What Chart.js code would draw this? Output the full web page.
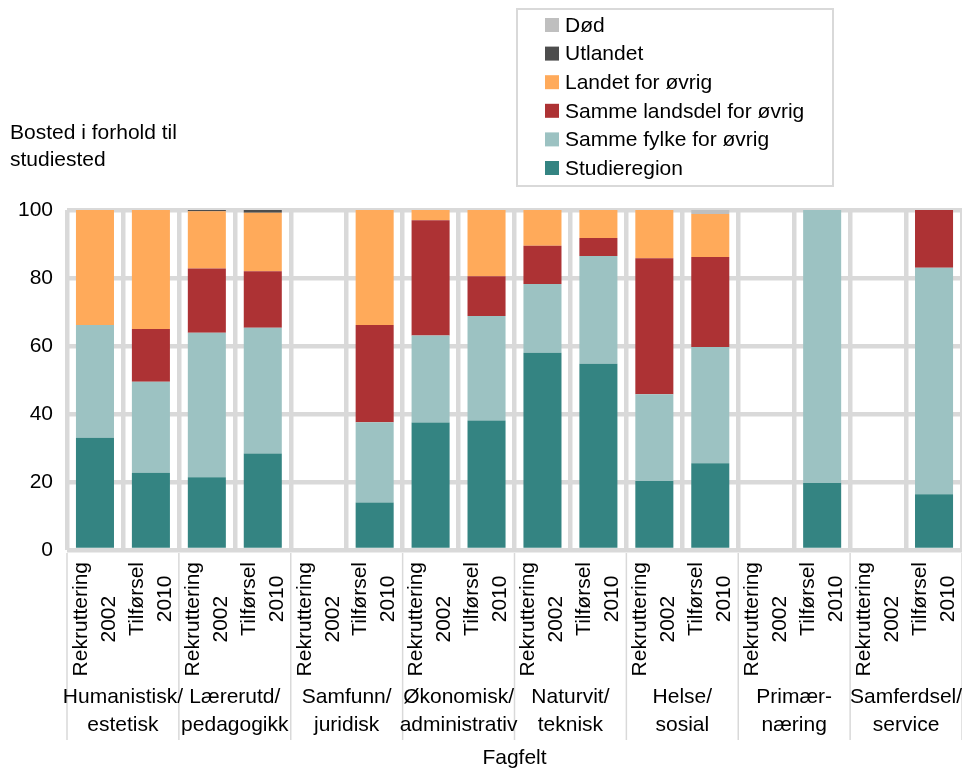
<!DOCTYPE html>
<html>
<head>
<meta charset="utf-8">
<script src="https://cdn.jsdelivr.net/npm/chart.js@4.4.0/dist/chart.umd.min.js"></script>
<style>
html, body { margin: 0; padding: 0; background: #fff; }
#wrap { width: 962px; height: 769px; }
</style>
</head>
<body>
<div id="wrap"><canvas id="bosted_chart" width="962" height="769"></canvas></div>
<script>
// Two bars per subject field: recruitment 2002 and supply 2010
const categories = [
    ["Rekruttering", "2002"], ["Tilførsel", "2010"],
    ["Rekruttering", "2002"], ["Tilførsel", "2010"],
    ["Rekruttering", "2002"], ["Tilførsel", "2010"],
    ["Rekruttering", "2002"], ["Tilførsel", "2010"],
    ["Rekruttering", "2002"], ["Tilførsel", "2010"],
    ["Rekruttering", "2002"], ["Tilførsel", "2010"],
    ["Rekruttering", "2002"], ["Tilførsel", "2010"],
    ["Rekruttering", "2002"], ["Tilførsel", "2010"]
];
const groups = [
    ["Humanistisk/", "estetisk"],
    ["Lærerutd/", "pedagogikk"],
    ["Samfunn/", "juridisk"],
    ["Økonomisk/", "administrativ"],
    ["Naturvit/", "teknisk"],
    ["Helse/", "sosial"],
    ["Primær-", "næring"],
    ["Samferdsel/", "service"]
];
const yTicks = [0, 20, 40, 60, 80, 100];

// Share (%) by place of residence
const studieregion  = [33.0, 22.7, 21.4, 28.4, 0, 14.0, 37.5, 38.1, 58.0, 54.8, 20.3, 25.5, 0, 19.7, 0, 16.4];
const sammeFylke    = [33.2, 26.8, 42.5, 37.0, 0, 23.6, 25.6, 30.7, 20.2, 31.7, 25.5, 34.2, 0, 80.3, 0, 66.6];
const sammeLandsdel = [0, 15.5, 18.9, 16.6, 0, 28.6, 33.9, 11.7, 11.3, 5.3, 40.0, 26.5, 0, 0, 0, 17.0];
const landetOvrig   = [33.8, 35.0, 16.8, 17.2, 0, 33.8, 3.0, 19.5, 10.5, 8.2, 14.2, 12.6, 0, 0, 0, 0];
const utlandet      = [0, 0, 0.4, 0.8, 0, 0, 0, 0, 0, 0, 0, 0, 0, 0, 0, 0];
const dod           = [0, 0, 0, 0, 0, 0, 0, 0, 0, 0, 0, 1.2, 0, 0, 0, 0];

const FAMILY = '"Liberation Sans", Arial, sans-serif';
const FONT = "21px " + FAMILY;
const TEXT = "#000";
const GRID = "#d9d9d9";

// Draws the rotated bar labels, field labels, legend box and titles
const extraDrawing = {
    id: "extraDrawing",
    afterDraw(chart) {
        let ctx = chart.ctx;
        let xs = chart.scales.x;
        let area = chart.chartArea;
        ctx.save();
        ctx.font = FONT;
        ctx.fillStyle = TEXT;

        // bar labels, lines centred on each other
        categories.forEach((lines, i) => {
            let cx = xs.getPixelForValue(i);
            let longest = Math.max(...lines.map(l => ctx.measureText(l).width));
            ctx.save();
            ctx.translate(cx, area.bottom + 12 + longest / 2);
            ctx.rotate(-Math.PI / 2);
            ctx.textAlign = "center";
            ctx.textBaseline = "middle";
            lines.forEach((l, j) => {
                ctx.fillText(l, 0, (j - (lines.length - 1) / 2) * 28);
            });
            ctx.restore();
        });

        // separators between fields
        ctx.strokeStyle = GRID;
        ctx.lineWidth = 1.5;
        for (let g = 0; g <= groups.length; g++) {
            let px = xs.getPixelForValue(g * 2 - 0.5);
            ctx.beginPath();
            ctx.moveTo(px, area.bottom + 3);
            ctx.lineTo(px, area.bottom + 190);
            ctx.stroke();
        }

        // field names
        ctx.textAlign = "center";
        ctx.textBaseline = "middle";
        groups.forEach((lines, g) => {
            let cx = (xs.getPixelForValue(g * 2) + xs.getPixelForValue(g * 2 + 1)) / 2;
            lines.forEach((l, j) => ctx.fillText(l, cx, area.bottom + 147 + j * 28));
        });

        // axis titles
        ctx.fillText("Fagfelt", (area.left + area.right) / 2, 758);
        ctx.textAlign = "left";
        ctx.fillText("Bosted i forhold til", 10, 133);
        ctx.fillText("studiested", 10, 160);

        // legend, top series first
        ctx.strokeStyle = GRID;
        ctx.lineWidth = 2;
        ctx.strokeRect(517, 9, 316, 177);
        let sets = chart.data.datasets.slice().reverse();
        sets.forEach((ds, k) => {
            let cy = 25 + k * 28.6;
            ctx.fillStyle = ds.backgroundColor;
            ctx.fillRect(545, cy - 7, 14, 14);
            ctx.fillStyle = TEXT;
            ctx.fillText(ds.label, 565, cy + 1);
        });
        ctx.restore();
    }
};

let ctx = document.getElementById("bosted_chart").getContext("2d");

let datasets = [
    { label: "Studieregion", data: studieregion, backgroundColor: "#348482" },
    { label: "Samme fylke for øvrig", data: sammeFylke, backgroundColor: "#9cc2c2" },
    { label: "Samme landsdel for øvrig", data: sammeLandsdel, backgroundColor: "#ad3234" },
    { label: "Landet for øvrig", data: landetOvrig, backgroundColor: "#ffaa5a" },
    { label: "Utlandet", data: utlandet, backgroundColor: "#4d4d4d" },
    { label: "Død", data: dod, backgroundColor: "#bfbfbf" }
];

let bostedChart = new Chart(ctx, {
    type: "bar",
    data: {
        labels: categories.map(c => c.join(" ")),
        datasets: datasets.map(d => Object.assign({
            borderWidth: 0,
            categoryPercentage: 1.0,
            barPercentage: 0.68
        }, d))
    },
    options: {
        responsive: false,
        animation: false,
        layout: { padding: { top: 210, right: 0, bottom: 0, left: 0 } },
        plugins: {
            legend: { display: false },
            tooltip: { enabled: false }
        },
        scales: {
            x: {
                stacked: true,
                offset: true,
                grid: { color: GRID, lineWidth: 4.5, offset: true, drawTicks: false },
                border: { display: false },
                ticks: { display: false },
                afterFit(scale) { scale.height = 219; }
            },
            y: {
                stacked: true,
                min: 0,
                max: 100,
                afterBuildTicks(scale) { scale.ticks = yTicks.map(v => ({ value: v })); },
                grid: { color: GRID, lineWidth: 4.5, drawTicks: false },
                border: { display: false },
                ticks: { color: TEXT, font: { family: FAMILY, size: 21 }, padding: 14 },
                afterFit(scale) { scale.width = 67; }
            }
        }
    },
    plugins: [extraDrawing]
});
</script>
</body>
</html>
